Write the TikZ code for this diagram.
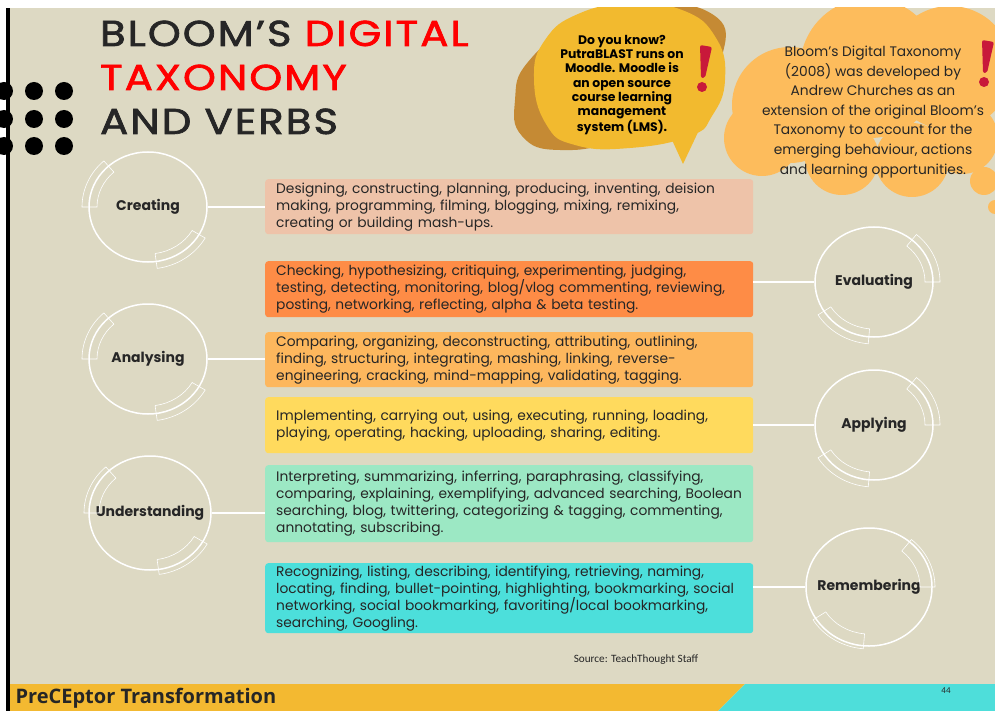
\documentclass[tikz,border=0pt]{standalone}
\usepackage{fontspec}
\setmainfont{Poppins}
\newfontfamily\headfont{Poppins}[LetterSpace=5, FakeBold=1.8]
\newfontfamily\footfont{Carlito}
\newfontfamily\brandfont{Open Sans}
\usetikzlibrary{positioning,shapes.geometric}

\definecolor{slidebg}{HTML}{DDD9C3}
\definecolor{titleink}{HTML}{262626}
\definecolor{titlered}{HTML}{FF0000}
\definecolor{peach}{HTML}{EEC3A9}
\definecolor{evalorange}{HTML}{FE8C46}
\definecolor{anaorange}{HTML}{FDB75D}
\definecolor{applyyellow}{HTML}{FFDA5D}
\definecolor{mint}{HTML}{9CE8C4}
\definecolor{aqua}{HTML}{4CDFDB}
\definecolor{bubbleyellow}{HTML}{F2BA2F}
\definecolor{bubblebrown}{HTML}{C58A34}
\definecolor{cloudorange}{HTML}{FDBC5C}
\definecolor{alertred}{HTML}{C8193A}
\definecolor{footyellow}{HTML}{F3B931}
\definecolor{footaqua}{HTML}{4EDEDA}

% thin outlined band around a level circle
\newcommand{\ringband}[3]{%
  \draw[band] ([shift={(#2:51pt and 47pt)}]#1.center)
    arc[start angle=#2, end angle=#3, x radius=51pt, y radius=47pt]
    -- ([shift={(#3:66pt and 62pt)}]#1.center)
    arc[start angle=#3, end angle=#2, x radius=66pt, y radius=62pt] -- cycle;}
% exclamation mark
\newcommand{\alertmark}[2]{%
  \fill[alertred, rounded corners=2pt] (#1-2,#2) -- (#1+10,#2+2) -- (#1+3,#2+33) -- (#1-1,#2+33) -- cycle;
  \fill[alertred] (#1,#2+42) circle[radius=5pt];}

\begin{document}
\begin{tikzpicture}[x=1pt,y=-1pt,
    level/.style={draw=white, line width=1.5pt, ellipse, minimum width=118pt, minimum height=110pt, inner sep=0pt},
    levelname/.style={font=\bfseries\fontsize{14}{15}\selectfont, text=titleink},
    verbs/.style={anchor=north west, rounded corners=3pt, minimum width=488pt, text width=466pt,
      inner xsep=11pt, inner ysep=0pt, align=left, font=\fontsize{13.8}{17}\selectfont, text=titleink},
    band/.style={draw=white, line width=0.6pt},
    link/.style={draw=white, line width=1.5pt},
    heading/.style={anchor=base west, xscale=1.16, transform shape, font=\headfont\fontsize{36}{44}\selectfont, text=titleink}]

\useasboundingbox (0,0) rectangle (995,711);
\fill[white] (0,0) rectangle (995,711);
\fill[slidebg] (10,8) rectangle (995,684);

% dots and left rule
\begin{scope}
  \clip (0,0) rectangle (995,711);
  \foreach \dx in {4,34,64}
    \foreach \dy in {91,119,146}
      \fill[black] (\dx,\dy) circle[radius=9pt];
\end{scope}
\fill[black] (6,8) rectangle (9.5,711);

% title
\node[heading] (title1) at (96,46) {BLOOM’S \textcolor{titlered}{DIGITAL}};
\node[heading, text=titlered] (title2) at (96,90) {TAXONOMY};
\node[heading] (title3) at (96,134) {AND VERBS};

% callouts
\begin{scope}
  \clip (10,8) rectangle (995,684);
  \fill[bubblebrown] plot[smooth cycle, tension=0.8] coordinates
    {(515,100) (528,62) (575,28) (650,6) (712,14) (723,52) (690,98) (620,138) (560,150) (522,136)};
  \fill[bubbleyellow] plot[smooth cycle, tension=0.8] coordinates
    {(534,78) (545,40) (578,14) (628,4) (682,10) (716,38) (725,80) (712,116) (690,136) (630,148) (575,145) (546,124)};
  \fill[bubbleyellow] (672,140) -- (683,164) -- (700,128) -- cycle;
  \alertmark{702}{45}
  % cloud
  \foreach \cx/\cy/\r in {790/105/58, 762/138/38, 870/68/70, 950/68/62, 842/158/37, 912/160/37,
      962/138/36, 984/181/14, 995/207/7}
    \fill[cloudorange] (\cx,\cy) circle[radius=\r pt];
  \alertmark{984}{40}
\end{scope}

\node[font=\bfseries\fontsize{12.4}{14.3}\selectfont, text=black, align=center] (fact) at (622,85)
  {Do you know?\\PutraBLAST runs on\\Moodle. Moodle is\\an open source\\course learning\\management\\system (LMS).};
\node[font=\fontsize{13.8}{19.6}\selectfont, text=titleink, align=center] (note) at (873,112)
  {Bloom's Digital Taxonomy\\(2008) was developed by\\Andrew Churches as an\\extension of the original Bloom's\\Taxonomy to account for the\\emerging behaviour, actions\\and learning opportunities.};

% verb boxes
\node[verbs, fill=peach, minimum height=55pt] (crbox) at (265,179)
  {Designing, constructing, planning, producing, inventing, deision\\making, programming, filming, blogging, mixing, remixing,\\creating or building mash-ups.};
\node[verbs, fill=evalorange, minimum height=56pt] (evbox) at (265,261)
  {Checking, hypothesizing, critiquing, experimenting, judging,\\testing, detecting, monitoring, blog/vlog commenting, reviewing,\\posting, networking, reflecting, alpha \& beta testing.};
\node[verbs, fill=anaorange, minimum height=55pt] (anbox) at (265,332)
  {Comparing, organizing, deconstructing, attributing, outlining,\\finding, structuring, integrating, mashing, linking, reverse-\\engineering, cracking, mind-mapping, validating, tagging.};
\node[verbs, fill=applyyellow, minimum height=56pt] (apbox) at (265,397)
  {Implementing, carrying out, using, executing, running, loading,\\playing, operating, hacking, uploading, sharing, editing.};
\node[verbs, fill=mint, minimum height=77pt] (unbox) at (265,465)
  {Interpreting, summarizing, inferring, paraphrasing, classifying,\\comparing, explaining, exemplifying, advanced searching, Boolean\\searching, blog, twittering, categorizing \& tagging, commenting,\\annotating, subscribing.};
\node[verbs, fill=aqua, minimum height=70pt] (rebox) at (265,563)
  {Recognizing, listing, describing, identifying, retrieving, naming,\\locating, finding, bullet-pointing, highlighting, bookmarking, social\\networking, social bookmarking, favoriting/local bookmarking,\\searching, Googling.};

% level circles
\node[level, label={[levelname]center:Creating}] (creating) at (148,207) {};
\node[level, label={[levelname]center:Analysing}] (analysing) at (148,359) {};
\node[level, minimum width=122pt, minimum height=114pt, label={[levelname]center:Understanding}] (understanding) at (150,513) {};
\node[level, label={[levelname]center:Evaluating}] (evaluating) at (874,282) {};
\node[level, label={[levelname]center:Applying}] (applying) at (874,425) {};
\node[level, minimum width=126pt, minimum height=118pt, label={[levelname]center:Remembering}] (remembering) at (869,587) {};

\foreach \lv in {creating,analysing,understanding}{
  \ringband{\lv}{132}{180}
  \ringband{\lv}{-82}{-30}
}
\foreach \lv in {evaluating,applying,remembering}{
  \ringband{\lv}{0}{50}
  \ringband{\lv}{-148}{-95}
}

\draw[link] (creating.east) -- (creating.east -| crbox.west);
\draw[link] (analysing.east) -- (analysing.east -| anbox.west);
\draw[link] (understanding.east) -- (understanding.east -| unbox.west);
\draw[link] (evaluating.west) -- (evaluating.west -| evbox.east);
\draw[link] (applying.west) -- (applying.west -| apbox.east);
\draw[link] (remembering.west) -- (remembering.west -| rebox.east);

\node[font=\footfont\fontsize{11.2}{12}\selectfont, text=titleink] (source) at (636,660) {Source: TeachThought Staff};

% footer
\fill[footyellow] (10,684) -- (745,684) -- (718,711) -- (10,711) -- cycle;
\fill[footaqua] (745,684) -- (995,684) -- (995,711) -- (718,711) -- cycle;
\fill[black] (6,684) rectangle (9.5,711);
\node[anchor=west, font=\brandfont\bfseries\fontsize{20}{21}\selectfont, text=titleink] (brand) at (12,698) {PreCEptor Transformation};
\node[font=\footfont\fontsize{9}{10}\selectfont, text=titleink] (page) at (946,691) {44};
\end{tikzpicture}
\end{document}
